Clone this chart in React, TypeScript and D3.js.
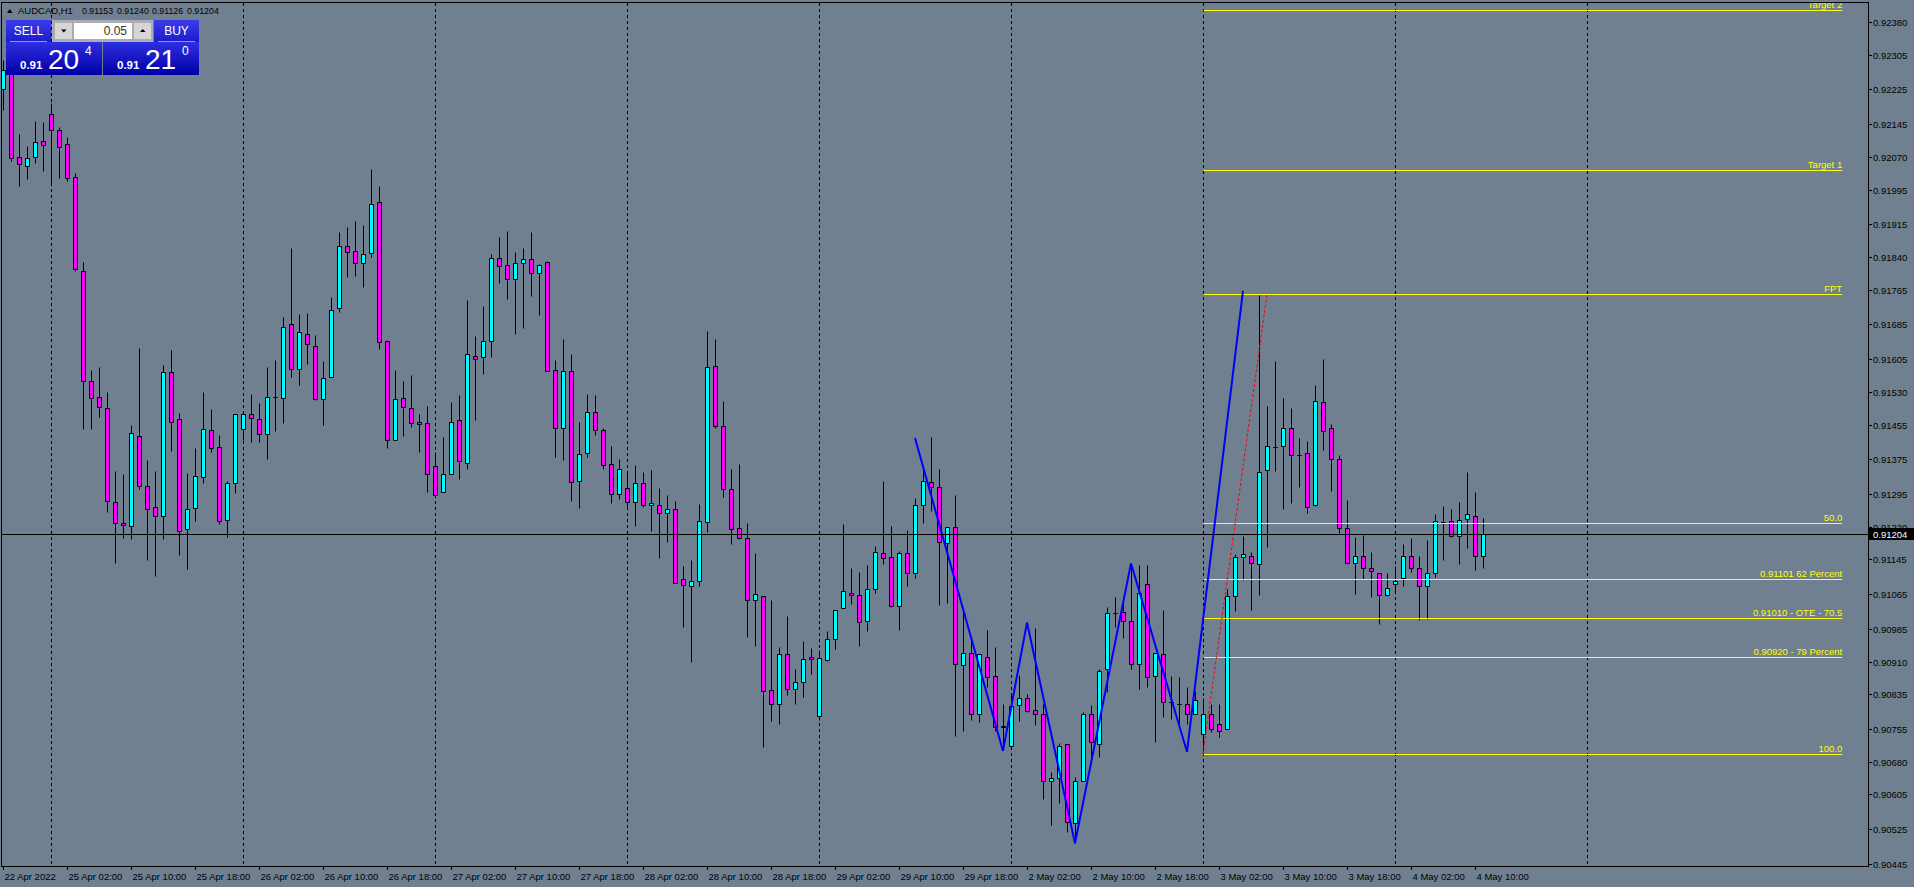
import * as d3 from "d3";
import { useEffect, useRef } from "react";

const W = 1914;
const H = 887;
const FONT = "'Liberation Sans', Arial, sans-serif";

// AUDCAD H1, bars from 22 Apr 18:00 to 4 May 11:00
const timeLabels = [
  "22 Apr 2022", "25 Apr 02:00", "25 Apr 10:00", "25 Apr 18:00", "26 Apr 02:00", "26 Apr 10:00",
  "26 Apr 18:00", "27 Apr 02:00", "27 Apr 10:00", "27 Apr 18:00", "28 Apr 02:00", "28 Apr 10:00",
  "28 Apr 18:00", "29 Apr 02:00", "29 Apr 10:00", "29 Apr 18:00", "2 May 02:00", "2 May 10:00",
  "2 May 18:00", "3 May 02:00", "3 May 10:00", "3 May 18:00", "4 May 02:00", "4 May 10:00",
];
const barsPerLabel = 8;
const daySeparators = [6, 30, 54, 78, 102, 126, 150, 174, 198];

const opens = [
  0.92226, 0.9227, 0.9207, 0.92048, 0.9207, 0.92107, 0.92169, 0.92131, 0.921, 0.92023,
  0.91809, 0.91555, 0.91519, 0.91492, 0.91277, 0.91229, 0.91223, 0.91429, 0.91313, 0.91266,
  0.91245, 0.91576, 0.91467, 0.91216, 0.91263, 0.91334, 0.91443, 0.91403, 0.91236, 0.9132,
  0.91445, 0.91479, 0.91467, 0.91433, 0.91519, 0.91517, 0.91687, 0.91583, 0.91663, 0.91635,
  0.91513, 0.91564, 0.91722, 0.91865, 0.91853, 0.91826, 0.91849, 0.91966, 0.91646, 0.91419,
  0.91515, 0.91492, 0.91462, 0.91458, 0.91359, 0.91299, 0.91341, 0.91465, 0.91366, 0.91612,
  0.9161, 0.91646, 0.91837, 0.91821, 0.91789, 0.91826, 0.91835, 0.91803, 0.91828, 0.9158,
  0.91446, 0.91577, 0.91325, 0.91389, 0.91485, 0.91442, 0.91364, 0.91295, 0.91309, 0.91276,
  0.9132, 0.91269, 0.91269, 0.91251, 0.91262, 0.91099, 0.91083, 0.91095, 0.9123, 0.91589,
  0.91451, 0.91306, 0.91217, 0.91194, 0.91051, 0.9106, 0.90844, 0.90814, 0.90927, 0.90847,
  0.90863, 0.9092, 0.90785, 0.90913, 0.90962, 0.91033, 0.91067, 0.91063, 0.91003, 0.91076,
  0.91159, 0.9115, 0.91037, 0.91159, 0.91113, 0.91269, 0.91322, 0.91311, 0.91182, 0.9122,
  0.90902, 0.90929, 0.90789, 0.9092, 0.90877, 0.90762, 0.90716, 0.9081, 0.90826, 0.90798,
  0.90791, 0.90635, 0.90642, 0.9072, 0.90539, 0.90635, 0.90789, 0.9072, 0.90893, 0.91022,
  0.91024, 0.91003, 0.90904, 0.91088, 0.90877, 0.90927, 0.90818, 0.90814, 0.90812, 0.90791,
  0.90743, 0.90791, 0.90766, 0.90755, 0.9106, 0.9115, 0.91154, 0.91134, 0.9135, 0.91403,
  0.91405, 0.91446, 0.91385, 0.91389, 0.91269, 0.91506, 0.91446, 0.91375, 0.91217, 0.91138,
  0.91154, 0.91125, 0.91113, 0.91063, 0.91088, 0.91102, 0.91154, 0.91125, 0.91085, 0.91115,
  0.91232, 0.91233, 0.91198, 0.91237, 0.91246, 0.91153,
];
const highs = [
  0.92293, 0.92281, 0.92123, 0.92095, 0.92153, 0.9215, 0.92193, 0.92139, 0.92115, 0.92032,
  0.91828, 0.9158, 0.91588, 0.91529, 0.91349, 0.91341, 0.91454, 0.91631, 0.91373, 0.91348,
  0.91593, 0.91626, 0.91481, 0.91344, 0.91402, 0.91529, 0.9149, 0.91431, 0.91325, 0.91479,
  0.91482, 0.91525, 0.91504, 0.91588, 0.91604, 0.91703, 0.91861, 0.91708, 0.91711, 0.9166,
  0.91601, 0.91748, 0.91898, 0.91909, 0.91923, 0.91914, 0.92042, 0.92003, 0.91649, 0.9158,
  0.91555, 0.91569, 0.91479, 0.91497, 0.91391, 0.91426, 0.91506, 0.91522, 0.91741, 0.91659,
  0.91727, 0.91846, 0.91885, 0.919, 0.91851, 0.9186, 0.91898, 0.91823, 0.9183, 0.91603,
  0.91651, 0.91616, 0.91462, 0.91525, 0.91522, 0.91446, 0.91406, 0.91377, 0.91344, 0.91362,
  0.91345, 0.9135, 0.91309, 0.91292, 0.91279, 0.91129, 0.91143, 0.91272, 0.9167, 0.91652,
  0.91508, 0.91354, 0.91364, 0.91228, 0.91159, 0.9106, 0.91051, 0.90943, 0.91014, 0.90893,
  0.90957, 0.90941, 0.90936, 0.9098, 0.9103, 0.91226, 0.91125, 0.91116, 0.91132, 0.91175,
  0.91325, 0.91221, 0.91164, 0.91212, 0.91286, 0.91357, 0.91426, 0.91354, 0.9122, 0.91292,
  0.91029, 0.9096, 0.90927, 0.90982, 0.90943, 0.90812, 0.90835, 0.90879, 0.90835, 0.90987,
  0.90814, 0.90656, 0.90723, 0.9072, 0.90644, 0.90794, 0.9081, 0.90893, 0.91035, 0.91058,
  0.91044, 0.91132, 0.91132, 0.91132, 0.90929, 0.91028, 0.90877, 0.90874, 0.90851, 0.90842,
  0.90826, 0.90814, 0.90814, 0.91076, 0.91157, 0.91198, 0.91161, 0.91753, 0.91498, 0.916,
  0.91516, 0.91492, 0.91423, 0.91417, 0.91546, 0.91606, 0.91456, 0.91384, 0.91281, 0.91196,
  0.91201, 0.91161, 0.91113, 0.91113, 0.91129, 0.9118, 0.91194, 0.91152, 0.91189, 0.91249,
  0.91267, 0.91262, 0.91276, 0.91345, 0.91299, 0.9124,
];
const lows = [
  0.92178, 0.92061, 0.92003, 0.92019, 0.92055, 0.92038, 0.92009, 0.92021, 0.92015, 0.91809,
  0.91444, 0.91444, 0.91473, 0.91253, 0.91136, 0.91194, 0.91192, 0.91307, 0.91144, 0.91107,
  0.91192, 0.91394, 0.91156, 0.91122, 0.91233, 0.9132, 0.91392, 0.91226, 0.91197, 0.91297,
  0.9142, 0.91414, 0.91414, 0.91376, 0.9144, 0.91459, 0.91565, 0.91546, 0.91595, 0.91511,
  0.91454, 0.91564, 0.91714, 0.91795, 0.91796, 0.9177, 0.91841, 0.91629, 0.91402, 0.91419,
  0.91429, 0.9145, 0.91392, 0.91301, 0.91289, 0.91299, 0.91341, 0.91331, 0.91354, 0.91466,
  0.91571, 0.91611, 0.91781, 0.91744, 0.91662, 0.91678, 0.91751, 0.91707, 0.91577, 0.91381,
  0.91374, 0.9128, 0.91264, 0.9138, 0.9143, 0.91354, 0.91275, 0.91283, 0.91263, 0.91223,
  0.91266, 0.91211, 0.91149, 0.91186, 0.9109, 0.9099, 0.9091, 0.91083, 0.91207, 0.91446,
  0.91288, 0.9118, 0.91192, 0.90966, 0.90947, 0.90713, 0.90773, 0.90766, 0.90833, 0.90814,
  0.90828, 0.90881, 0.90775, 0.90911, 0.90939, 0.91033, 0.91042, 0.90947, 0.9098, 0.91067,
  0.91134, 0.91035, 0.90982, 0.91083, 0.91102, 0.91228, 0.91256, 0.91041, 0.91046, 0.90739,
  0.9075, 0.90775, 0.90771, 0.90851, 0.9075, 0.90715, 0.90716, 0.90773, 0.90794, 0.90764,
  0.90594, 0.90534, 0.90585, 0.90518, 0.90493, 0.90635, 0.90693, 0.9069, 0.9084, 0.90989,
  0.90964, 0.90893, 0.90847, 0.90851, 0.90725, 0.90784, 0.90778, 0.90766, 0.90766, 0.90791,
  0.90703, 0.90749, 0.90736, 0.90755, 0.91027, 0.91098, 0.91029, 0.91064, 0.91174, 0.91349,
  0.9126, 0.91275, 0.91312, 0.91252, 0.91267, 0.91397, 0.91303, 0.91205, 0.91134, 0.91066,
  0.91099, 0.91059, 0.90997, 0.9106, 0.91072, 0.91083, 0.91116, 0.91005, 0.91009, 0.91104,
  0.91144, 0.91196, 0.91135, 0.91172, 0.9112, 0.91126,
];
const closes = [
  0.9227, 0.92067, 0.92053, 0.92068, 0.92104, 0.92097, 0.92131, 0.92093, 0.92022, 0.91812,
  0.91556, 0.91517, 0.91495, 0.91279, 0.91229, 0.91225, 0.91436, 0.91313, 0.91261, 0.91245,
  0.91576, 0.91462, 0.91211, 0.91261, 0.91336, 0.91445, 0.91401, 0.91233, 0.9132, 0.91479,
  0.91479, 0.91469, 0.91433, 0.91519, 0.91518, 0.9168, 0.91583, 0.91668, 0.91639, 0.91514,
  0.91561, 0.91718, 0.91865, 0.91851, 0.91826, 0.91846, 0.91961, 0.91644, 0.91419, 0.91513,
  0.91495, 0.91458, 0.91456, 0.91341, 0.91292, 0.91341, 0.91462, 0.91371, 0.91616, 0.91605,
  0.91646, 0.91837, 0.91819, 0.91789, 0.91826, 0.91835, 0.91803, 0.91821, 0.91577, 0.91446,
  0.91577, 0.91322, 0.91387, 0.91485, 0.91442, 0.91361, 0.91295, 0.91354, 0.91276, 0.9132,
  0.91269, 0.91274, 0.91251, 0.9126, 0.91092, 0.91086, 0.91095, 0.91233, 0.91587, 0.91451,
  0.91306, 0.91214, 0.91194, 0.91051, 0.91065, 0.90842, 0.90814, 0.90927, 0.90847, 0.90863,
  0.90916, 0.90916, 0.90918, 0.90962, 0.9103, 0.91072, 0.91063, 0.91001, 0.91076, 0.91161,
  0.91148, 0.91037, 0.91159, 0.91113, 0.91269, 0.91325, 0.91311, 0.91184, 0.9122, 0.90904,
  0.90929, 0.90789, 0.90927, 0.90874, 0.90759, 0.90761, 0.90808, 0.90826, 0.90796, 0.90791,
  0.90635, 0.90642, 0.90716, 0.90541, 0.90635, 0.90789, 0.90725, 0.90888, 0.91021, 0.91023,
  0.91003, 0.90904, 0.91067, 0.90874, 0.90929, 0.90817, 0.90818, 0.90814, 0.90789, 0.90821,
  0.90791, 0.90755, 0.9075, 0.9106, 0.9115, 0.91157, 0.91136, 0.91345, 0.91405, 0.91403,
  0.91446, 0.91384, 0.91385, 0.91265, 0.91508, 0.9144, 0.91377, 0.91217, 0.91138, 0.91154,
  0.91125, 0.91118, 0.91063, 0.91079, 0.91095, 0.91154, 0.91125, 0.91083, 0.91113, 0.91233,
  0.91232, 0.91198, 0.91235, 0.91249, 0.91154, 0.91204,
];

const priceTicks = [
  0.9238, 0.92305, 0.92225, 0.92145, 0.9207, 0.91995, 0.91915, 0.9184, 0.91765, 0.91685,
  0.91605, 0.9153, 0.91455, 0.91375, 0.91295, 0.9122, 0.91145, 0.91065, 0.90985, 0.9091,
  0.90835, 0.90755, 0.9068, 0.90605, 0.90525, 0.90445,
];
const bid = 0.91204;
const ask = 0.9121;
const lotSize = "0.05";

const zigzagBars = [114, 125, 128, 134, 141, 148, 155];
const zigzagPrices = [0.91424, 0.90705, 0.91, 0.90493, 0.91136, 0.90703, 0.91762];

const fibPrices = [0.92407, 0.92039, 0.91754, 0.91228, 0.91101, 0.9101, 0.9092, 0.90699];
const fibLabels = [
  "Target 2", "Target 1", "FPT", "50.0", "0.91101 62 Percent",
  "0.91010 - OTE - 70.5", "0.90920 - 79 Percent", "100.0",
];
const fibStartBar = 150;
const fibEndBar = 229.9;
const fibSwingEndBar = 158;

export default function App(): JSX.Element {
  const svgRef = useRef<SVGSVGElement>(null);

  useEffect(() => {
    if (!svgRef.current) return;
    const svg = d3.select(svgRef.current);
    svg.selectAll("*").remove();

    const plot = { left: 1, top: 3, right: 1868, bottom: 866 };

    const x = d3.scaleLinear().domain([0, 233]).range([3, 1867]);
    const y = d3.scaleLinear().domain([0.904406, 0.924237]).range([plot.bottom, plot.top]);
    const px = (i: number) => Math.round(x(i)) + 0.5;
    const py = (p: number) => Math.round(y(p)) + 0.5;

    const defs = svg.append("defs");
    defs
      .append("clipPath")
      .attr("id", "plotClip")
      .append("rect")
      .attr("x", plot.left + 1)
      .attr("y", plot.top)
      .attr("width", plot.right - plot.left - 1)
      .attr("height", plot.bottom - plot.top);

    const grad = (id: string, top: string, bottom: string) => {
      const g = defs.append("linearGradient").attr("id", id).attr("x1", 0).attr("y1", 0).attr("x2", 0).attr("y2", 1);
      g.append("stop").attr("offset", "0%").attr("stop-color", top);
      g.append("stop").attr("offset", "100%").attr("stop-color", bottom);
    };
    grad("btnGrad", "#3c3cec", "#1c1cc8");
    grad("priceGrad", "#2e2ee2", "#0000a6");

    svg.append("rect").attr("width", W).attr("height", H).attr("fill", "#708090");

    const inner = svg.append("g").attr("clip-path", "url(#plotClip)");

    // day separators
    inner
      .append("g")
      .selectAll("line")
      .data(daySeparators)
      .join("line")
      .attr("x1", (d) => px(d))
      .attr("x2", (d) => px(d))
      .attr("y1", plot.top)
      .attr("y2", plot.bottom)
      .attr("stroke", "#000")
      .attr("stroke-dasharray", "3,3");

    // candles
    const bars = d3.range(opens.length);
    const cg = inner.append("g");
    cg.selectAll("line.wick")
      .data(bars)
      .join("line")
      .attr("class", "wick")
      .attr("x1", (i) => px(i))
      .attr("x2", (i) => px(i))
      .attr("y1", (i) => py(highs[i]))
      .attr("y2", (i) => py(lows[i]))
      .attr("stroke", "#000");
    cg.selectAll("path.body")
      .data(bars)
      .join("path")
      .attr("class", "body")
      .attr("d", (i) => {
        const x0 = px(i) - 2;
        const y0 = py(Math.max(opens[i], closes[i]));
        const y1 = py(Math.min(opens[i], closes[i]));
        return `M${x0},${y0}H${x0 + 4}V${y1}H${x0}Z`;
      })
      .attr("fill", (i) => (closes[i] >= opens[i] ? "#00ffff" : "#ff00ff"))
      .attr("stroke", "#000");

    // fib levels
    const fg = inner.append("g");
    fg.selectAll("line")
      .data(fibPrices)
      .join("line")
      .attr("x1", px(fibStartBar))
      .attr("x2", x(fibEndBar))
      .attr("y1", (d) => py(d))
      .attr("y2", (d) => py(d))
      .attr("stroke", "#ffff00");
    fg.selectAll("text")
      .data(fibPrices)
      .join("text")
      .attr("x", x(fibEndBar))
      .attr("y", (d) => py(d) - 3)
      .attr("text-anchor", "end")
      .attr("font-family", FONT)
      .attr("font-size", 9.5)
      .attr("fill", "#ffff00")
      .text((_, k) => fibLabels[k]);

    // fib swing (dotted red)
    inner
      .append("line")
      .attr("x1", x(fibStartBar))
      .attr("y1", y(fibPrices[7]))
      .attr("x2", x(fibSwingEndBar))
      .attr("y2", y(fibPrices[2]))
      .attr("stroke", "#ff0000")
      .attr("stroke-dasharray", "3,2");

    // zigzag
    const zz = d3
      .line<number>()
      .x((k) => x(zigzagBars[k]))
      .y((k) => y(zigzagPrices[k]));
    inner
      .append("path")
      .attr("d", zz(d3.range(zigzagBars.length)))
      .attr("fill", "none")
      .attr("stroke", "#0000ff")
      .attr("stroke-width", 2);

    // bid line
    inner
      .append("line")
      .attr("x1", plot.left)
      .attr("x2", plot.right)
      .attr("y1", py(bid))
      .attr("y2", py(bid))
      .attr("stroke", "#000");

    // frame
    svg
      .append("rect")
      .attr("x", plot.left + 0.5)
      .attr("y", plot.top - 0.5)
      .attr("width", plot.right - plot.left)
      .attr("height", plot.bottom - plot.top + 1)
      .attr("fill", "none")
      .attr("stroke", "#000");

    // price axis
    const pa = svg.append("g");
    pa.selectAll("line")
      .data(priceTicks)
      .join("line")
      .attr("x1", plot.right)
      .attr("x2", plot.right + 4)
      .attr("y1", (d) => py(d))
      .attr("y2", (d) => py(d))
      .attr("stroke", "#000");
    pa.selectAll("text")
      .data(priceTicks)
      .join("text")
      .attr("x", plot.right + 5)
      .attr("y", (d) => py(d))
      .attr("dy", "0.35em")
      .attr("font-family", FONT)
      .attr("font-size", 9.5)
      .attr("fill", "#000")
      .text((d) => d.toFixed(5));
    pa.append("rect")
      .attr("x", plot.right + 1)
      .attr("y", py(bid) - 6.5)
      .attr("width", W - plot.right - 1)
      .attr("height", 12)
      .attr("fill", "#000");
    pa.append("text")
      .attr("x", plot.right + 5)
      .attr("y", py(bid))
      .attr("dy", "0.35em")
      .attr("font-family", FONT)
      .attr("font-size", 9.5)
      .attr("fill", "#fff")
      .text(bid.toFixed(5));

    // time axis
    const labelBars = timeLabels.map((_, k) => k * barsPerLabel);
    const ta = svg.append("g");
    ta.selectAll("line")
      .data(labelBars)
      .join("line")
      .attr("x1", (d) => px(d))
      .attr("x2", (d) => px(d))
      .attr("y1", plot.bottom)
      .attr("y2", plot.bottom + 4)
      .attr("stroke", "#000");
    ta.selectAll("text")
      .data(labelBars)
      .join("text")
      .attr("x", (d) => px(d) + 1)
      .attr("y", plot.bottom + 14)
      .attr("font-family", FONT)
      .attr("font-size", 9.5)
      .attr("fill", "#000")
      .text((_, k) => timeLabels[k]);

    // header
    const last = opens.length - 1;
    svg.append("path").attr("d", "M7,13L12.5,13L9.75,9Z").attr("fill", "#000");
    svg
      .append("text")
      .attr("x", 18)
      .attr("y", 14)
      .attr("font-family", FONT)
      .attr("font-size", 9.5)
      .attr("fill", "#000")
      .text("AUDCAD,H1");
    svg
      .append("g")
      .selectAll("text")
      .data([opens[last], highs[last], lows[last], closes[last]])
      .join("text")
      .attr("x", (_, k) => 82 + k * 35)
      .attr("y", 14)
      .attr("font-family", FONT)
      .attr("font-size", 8.8)
      .attr("fill", "#000")
      .text((d) => d.toFixed(5));

    // one click trading panel
    const panel = svg.append("g");
    const button = (x0: number, w: number, label: string) => {
      panel.append("rect").attr("x", x0).attr("y", 20).attr("width", w).attr("height", 22).attr("fill", "url(#btnGrad)");
      panel
        .append("line")
        .attr("x1", x0 + 4)
        .attr("x2", x0 + w - 4)
        .attr("y1", 41.5)
        .attr("y2", 41.5)
        .attr("stroke", "#8c8cff");
      panel
        .append("text")
        .attr("x", x0 + w / 2)
        .attr("y", 35)
        .attr("text-anchor", "middle")
        .attr("font-family", FONT)
        .attr("font-size", 12)
        .attr("fill", "#fff")
        .text(label);
    };
    button(6, 45, "SELL");
    button(154, 45, "BUY");

    panel.append("rect").attr("x", 52).attr("y", 20).attr("width", 101).attr("height", 22).attr("fill", "#a9adb3");
    panel.append("rect").attr("x", 55).attr("y", 23).attr("width", 17).attr("height", 16).attr("fill", "#d6d6d6");
    panel.append("rect").attr("x", 74).attr("y", 23).attr("width", 58).attr("height", 16).attr("fill", "#fff");
    panel.append("rect").attr("x", 134).attr("y", 23).attr("width", 17).attr("height", 16).attr("fill", "#d6d6d6");
    panel.append("path").attr("d", "M61,29.5H66.5L63.75,32.5Z").attr("fill", "#000");
    panel.append("path").attr("d", "M140,32H145.5L142.75,29Z").attr("fill", "#000");
    panel
      .append("text")
      .attr("x", 127)
      .attr("y", 35)
      .attr("text-anchor", "end")
      .attr("font-family", FONT)
      .attr("font-size", 12)
      .attr("fill", "#3a3020")
      .text(lotSize);

    const priceBox = (x0: number, price: number) => {
      const s = price.toFixed(5);
      panel.append("rect").attr("x", x0).attr("y", 42).attr("width", 96).attr("height", 33).attr("fill", "url(#priceGrad)");
      panel
        .append("text")
        .attr("x", x0 + 14)
        .attr("y", 68.5)
        .attr("font-family", FONT)
        .attr("font-size", 11.5)
        .attr("font-weight", "bold")
        .attr("fill", "#fff")
        .text(s.slice(0, 4));
      panel
        .append("text")
        .attr("x", x0 + 42)
        .attr("y", 68.5)
        .attr("font-family", FONT)
        .attr("font-size", 28)
        .attr("fill", "#fff")
        .text(s.slice(4, 6));
      panel
        .append("text")
        .attr("x", x0 + 79)
        .attr("y", 55)
        .attr("font-family", FONT)
        .attr("font-size", 12)
        .attr("fill", "#fff")
        .text(s.slice(6));
    };
    priceBox(6, bid);
    priceBox(103, ask);
  }, []);

  return (
    <div style={{ position: "fixed", left: 0, top: 0, width: W, height: H, background: "#708090" }}>
      <svg ref={svgRef} width={W} height={H} style={{ display: "block" }} />
    </div>
  );
}
